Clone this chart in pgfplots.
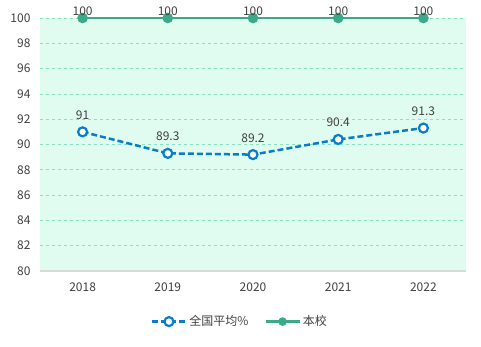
\documentclass[border=0pt]{standalone}
\usepackage{pgfplots}
\pgfplotsset{compat=1.18}
\usepackage{fontspec}
\setmainfont{Noto Sans CJK SC}
\definecolor{bgmint}{HTML}{E0FCF0}
\definecolor{gridmint}{HTML}{86E3BE}
\definecolor{blueln}{HTML}{0A7CCC}
\definecolor{greenln}{HTML}{3AAA8A}
\definecolor{txt}{HTML}{404040}
\begin{document}
\begin{tikzpicture}[x=1pt,y=1pt]
\useasboundingbox (0,0) rectangle (481,347);
\begin{axis}[
  at={(40pt,76pt)}, anchor=south west,
  scale only axis, width=426pt, height=253pt,
  xmin=-0.5, xmax=4.5, ymin=80, ymax=100,
  xtick={0,1,2,3,4}, xticklabels={2018,2019,2020,2021,2022},
  ytick={80,82,...,100},
  axis x line*=bottom, axis y line*=left,
  x axis line style={draw=black!15, line width=1.5pt},
  y axis line style={draw=none},
  major tick length=0pt,
  ymajorgrids, grid style={gridmint, dashed, line width=0.7pt},
  axis background/.style={fill=bgmint},
  clip=false,
  tick label style={font=\fontsize{12}{13}\selectfont, text=txt},
  xticklabel style={yshift=-8pt},
  yticklabel style={xshift=-6pt},
  /pgf/number format/assume math mode=true,
  legend style={at={(0.469,-0.2)}, anchor=center, draw=none, fill=none,
    legend columns=2, font=\fontsize{12}{13}\selectfont, text=txt,
    /tikz/every even column/.append style={column sep=14pt}},
  legend image code/.code={
    \draw[#1] (0pt,0pt) -- (34pt,0pt);
    \draw[#1, solid] plot coordinates {(17pt,0pt)};
  },
  nodes near coords style={font=\fontsize{12}{13}\selectfont, text=txt},
]
\addlegendimage{blueln, dash pattern=on 6pt off 3pt, line width=2.5pt, mark=*, mark size=4.5pt,
  mark options={solid, fill=white, draw=blueln, line width=2.2pt}}
\addlegendentry{全国平均\%}
\addlegendimage{greenln, line width=2.5pt, mark=*, mark size=3pt,
  mark options={fill=greenln, draw=greenln}}
\addlegendentry{本校}
\addplot[blueln, dash pattern=on 6pt off 3pt, line width=2.5pt, mark=*, mark size=4.5pt,
  mark options={solid, fill=white, draw=blueln, line width=2.2pt},
  nodes near coords, point meta=explicit symbolic,
  every node near coord/.append style={yshift=8pt}, forget plot]
  coordinates {(0,91)[91] (1,89.3)[89.3] (2,89.2)[89.2] (3,90.4)[90.4] (4,91.3)[91.3]};
\addplot[greenln, line width=2.5pt, mark=*, mark size=4pt,
  mark options={fill=greenln, draw=greenln},
  nodes near coords, point meta=explicit symbolic,
  every node near coord/.append style={yshift=-2pt}, forget plot]
  coordinates {(0,100)[100] (1,100)[100] (2,100)[100] (3,100)[100] (4,100)[100]};
\end{axis}
\end{tikzpicture}
\end{document}
